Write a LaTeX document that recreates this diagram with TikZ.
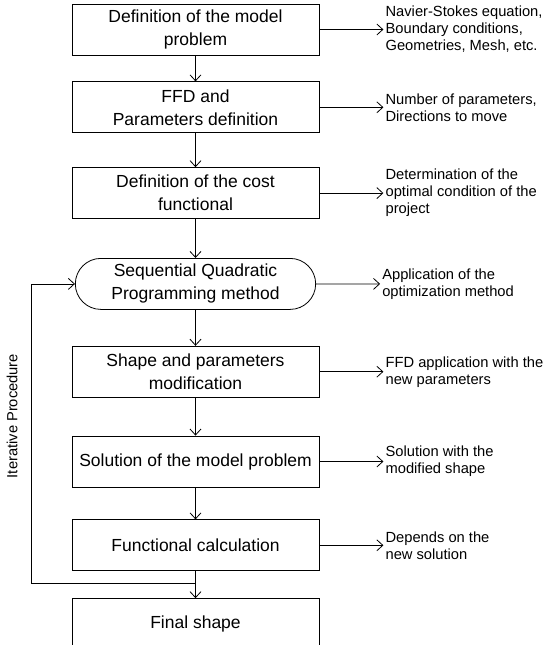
\documentclass[tikz,border=0pt]{standalone}
\usepackage{fontspec}
\setmainfont{Liberation Sans}
\usetikzlibrary{arrows.meta,positioning,shapes.misc}

\begin{document}
\begin{tikzpicture}[x=1pt,y=1pt,
  box/.style={draw, line width=0.8pt, minimum width=247pt, minimum height=51pt,
    align=center, font=\fontsize{17.5}{23}\selectfont},
  sqpbox/.style={box, rounded rectangle},
  note/.style={align=left, inner sep=2pt, font=\fontsize{14.7}{17}\selectfont},
  flow/.style={-{Straight Barb[length=6pt,width=11pt]}, line width=0.8pt}]
\useasboundingbox (0,0) rectangle (546,-645);
%
\node[box] (model) at (195.5,-29.5) {Definition of the model\\problem};
\node[box, below=26pt of model] (ffd) {FFD and\\Parameters definition};
\node[box, below=34pt of ffd] (cost) {Definition of the cost\\functional};
\node[sqpbox, below=39pt of cost] (sqp) {Sequential Quadratic\\Programming method};
\node[box, below=36pt of sqp] (shape) {Shape and parameters\\modification};
\node[box, below=38pt of shape] (sol) {Solution of the model problem};
\node[box, below=32pt of sol] (func) {Functional calculation};
\node[box, below=27pt of func] (final) {Final shape};
%
\node[note, right=64pt of model] (n1) {Navier-Stokes equation,\\Boundary conditions,\\Geometries, Mesh, etc.};
\node[note, right=64pt of ffd] (n2) {Number of parameters,\\Directions to move};
\node[note, right=64pt of cost] (n3) {Determination of the\\optimal condition of the\\project};
\node[note, right=64pt of sqp] (n4) {Application of the\\optimization method};
\node[note, right=64pt of shape] (n5) {FFD application with the\\new parameters};
\node[note, right=64pt of sol] (n6) {Solution with the\\modified shape};
\node[note, right=64pt of func] (n7) {Depends on the\\new solution};
%
\draw[flow] (model) -- (ffd);
\draw[flow] (ffd) -- (cost);
\draw[flow] (cost) -- (sqp);
\draw[flow] (sqp) -- (shape);
\draw[flow] (shape) -- (sol);
\draw[flow] (sol) -- (func);
\foreach \a/\b in {model/n1,ffd/n2,cost/n3,sqp/n4,shape/n5,sol/n6,func/n7}
  \draw[flow] (\a) -- (\b);
%
\coordinate[below=12pt of func] (join);
\coordinate (back) at ([xshift=-40pt]func.west |- join);
\draw[line width=0.8pt] (func) -- (join);
\draw[flow] (join) -- (final);
\draw[flow] (join) -- (back) |- (sqp);
\node[note, rotate=90] (iter) at (12,-416) {Iterative Procedure};
\end{tikzpicture}
\end{document}
